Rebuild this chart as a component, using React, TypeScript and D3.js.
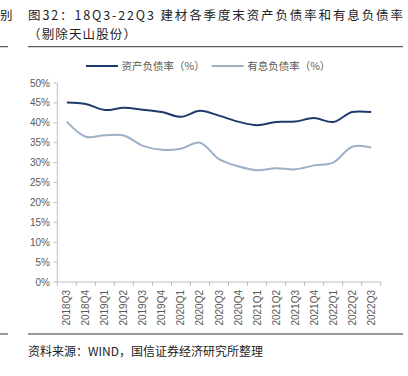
import React from "react";
import * as d3 from "d3";

const categories = [
  "2018Q3", "2018Q4", "2019Q1", "2019Q2", "2019Q3", "2019Q4", "2020Q1", "2020Q2", "2020Q3",
  "2020Q4", "2021Q1", "2021Q2", "2021Q3", "2021Q4", "2022Q1", "2022Q2", "2022Q3",
];
const assetLiability = [45.1, 44.7, 43.2, 43.8, 43.3, 42.7, 41.5, 43.0, 41.8, 40.3, 39.4, 40.2, 40.3, 41.2, 40.2, 42.7, 42.7];
const interestBearing = [40.3, 36.5, 36.9, 36.8, 34.2, 33.2, 33.5, 35.0, 30.9, 29.1, 28.1, 28.6, 28.3, 29.3, 30.0, 34.0, 33.8];
const yTicks = [0, 5, 10, 15, 20, 25, 30, 35, 40, 45, 50];
const seriesNames = ["资产负债率（%）", "有息负债率（%）"];

const W = 408;
const H = 376;
const plot = { left: 57.3, right: 380.7, top: 83, bottom: 282 };
const colors = ["#1F3B6B", "#9CB0C6"];
const cjk = "'Noto Sans CJK SC', 'Noto Sans', sans-serif";
const latin = "'Liberation Sans', Arial, sans-serif";

export default function App() {
  const x = d3.scaleBand<string>().domain(categories).range([plot.left, plot.right]);
  const y = d3.scaleLinear().domain([0, 50]).range([plot.bottom, plot.top]);
  const line = d3
    .line<number>()
    .x((_, i) => (x(categories[i]) as number) + x.bandwidth() / 2)
    .y((d) => y(d))
    .curve(d3.curveCatmullRom.alpha(0.5));
  const series = [assetLiability, interestBearing];
  const boundaries = [...categories.map((c) => x(c) as number), plot.right];

  return (
    <svg width={W} height={H} style={{ position: "absolute", left: 0, top: 0, background: "#fff" }}>
      <text x={0} y={19.5} fontFamily={cjk} fontSize={12.5} fill="#222">别</text>
      <line x1={0} x2={8} y1={46.7} y2={46.7} stroke="#333" strokeWidth={1} />
      <text x={28} y={19.5} fontFamily={cjk} fontSize={12.5} fill="#222" textLength={375} lengthAdjust="spacing">
        图32：18Q3-22Q3 建材各季度末资产负债率和有息负债率
      </text>
      <text x={28} y={38.5} fontFamily={cjk} fontSize={12.5} fill="#222" textLength={108} lengthAdjust="spacing">
        （剔除天山股份）
      </text>
      <line x1={28} x2={403} y1={46.7} y2={46.7} stroke="#333" strokeWidth={1} />

      {/* legend */}
      {seriesNames.map((name, i) => {
        const lx = i === 0 ? 86 : 211.7;
        return (
          <g key={name}>
            <line x1={lx} x2={lx + 32} y1={66} y2={66} stroke={colors[i]} strokeWidth={2} />
            <text x={lx + 35.5} y={69.5} fontFamily={cjk} fontSize={10.5} fill="#595959">{name}</text>
          </g>
        );
      })}

      {/* y axis */}
      <line x1={plot.left} x2={plot.left} y1={plot.top} y2={plot.bottom} stroke="#BFBFBF" />
      {yTicks.map((t) => (
        <g key={t}>
          <line x1={plot.left - 4} x2={plot.left} y1={y(t)} y2={y(t)} stroke="#BFBFBF" />
          <text x={50} y={y(t) + 3.5} textAnchor="end" fontFamily={latin} fontSize={10} fill="#595959">
            {t}%
          </text>
        </g>
      ))}

      {/* x axis */}
      <line x1={plot.left} x2={plot.right} y1={plot.bottom} y2={plot.bottom} stroke="#BFBFBF" />
      {boundaries.map((b, i) => (
        <line key={i} x1={b} x2={b} y1={plot.bottom} y2={plot.bottom + 4} stroke="#BFBFBF" />
      ))}
      {categories.map((c) => {
        const cx = (x(c) as number) + x.bandwidth() / 2;
        return (
          <text
            key={c}
            transform={`translate(${cx + 3.5},${plot.bottom + 8}) rotate(-90)`}
            textAnchor="end"
            fontFamily={latin}
            fontSize={10}
            fill="#595959"
          >
            {c}
          </text>
        );
      })}

      {/* lines */}
      {series.map((s, i) => (
        <path key={i} d={line(s) || ""} fill="none" stroke={colors[i]} strokeWidth={2} />
      ))}

      {/* footer */}
      <line x1={0} x2={8} y1={334} y2={334} stroke="#333" strokeWidth={1} />
      <line x1={28} x2={403} y1={334} y2={334} stroke="#333" strokeWidth={1} />
      <text x={28} y={356} fontFamily={cjk} fontSize={12} fill="#222">资料来源：WIND，国信证券经济研究所整理</text>
    </svg>
  );
}
